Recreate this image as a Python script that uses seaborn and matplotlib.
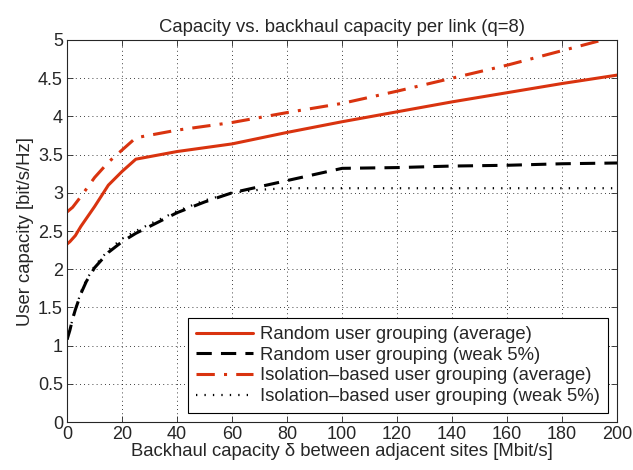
import numpy as np
import pandas as pd
import matplotlib
matplotlib.use("Agg")
import matplotlib.pyplot as plt
import seaborn as sns

# Data
x_rand_avg = [0, 1, 3, 5, 10, 15, 20, 25, 40, 60, 80, 100, 120, 140, 160, 180, 200]
y_rand_avg = [2.33, 2.36, 2.44, 2.56, 2.82, 3.10, 3.28, 3.44, 3.54, 3.64, 3.79, 3.93, 4.06, 4.19, 4.31, 4.43, 4.54]

x_rand_weak = [0, 1, 2, 3, 5, 7, 10, 15, 20, 25, 30, 40, 50, 60, 80, 100, 120, 140, 160, 180, 200]
y_rand_weak = [1.08, 1.2, 1.35, 1.47, 1.68, 1.84, 2.02, 2.22, 2.36, 2.47, 2.56, 2.74, 2.88, 3.0, 3.16, 3.32, 3.33, 3.35, 3.36, 3.38, 3.39]

x_iso_avg = [0, 1, 2, 5, 10, 15, 20, 25, 40, 60, 80, 100, 120, 140, 160, 180, 200]
y_iso_avg = [2.75, 2.78, 2.81, 2.95, 3.2, 3.4, 3.56, 3.72, 3.82, 3.92, 4.05, 4.17, 4.33, 4.5, 4.67, 4.86, 5.05]

x_iso_weak = [0, 1, 2, 3, 5, 7, 10, 15, 20, 25, 30, 40, 50, 60, 70, 80, 100, 120, 140, 160, 180, 200]
y_iso_weak = [1.08, 1.2, 1.35, 1.47, 1.7, 1.86, 2.04, 2.25, 2.4, 2.5, 2.59, 2.76, 2.9, 3.0, 3.04, 3.06, 3.06, 3.06, 3.06, 3.06, 3.06, 3.06]

labels = ["Random user grouping (average)",
          "Random user grouping (weak 5%)",
          "Isolation\u2013based user grouping (average)",
          "Isolation\u2013based user grouping (weak 5%)"]

sns.set_style("ticks")
plt.rcParams['font.family'] = ['Liberation Sans', 'DejaVu Sans']

fig = plt.figure(figsize=(6.33, 4.70), dpi=100)
ax = fig.add_axes([0.106, 0.102, 0.869, 0.813])

red = '#d9330f'
series = [
    (x_rand_avg, y_rand_avg, labels[0], red, '-', 2.2),
    (x_rand_weak, y_rand_weak, labels[1], 'black', (0, (5, 3)), 2.2),
    (x_iso_avg, y_iso_avg, labels[2], red, (0, (6, 3, 1, 3)), 2.2),
    (x_iso_weak, y_iso_weak, labels[3], 'black', (0, (0.6, 3.2)), 1.6),
]
for xs, ys, lab, col, ls, lw in series:
    df = pd.DataFrame({'x': xs, 'y': ys})
    sns.lineplot(data=df, x='x', y='y', ax=ax, color=col, linestyle=ls,
                 linewidth=lw, label=lab)

ax.set_xlim(0, 200)
ax.set_ylim(0, 5)
ax.set_xticks(np.arange(0, 201, 20))
ax.set_yticks(np.arange(0, 5.01, 0.5))
ax.set_yticklabels(['0', '0.5', '1', '1.5', '2', '2.5', '3', '3.5', '4', '4.5', '5'])
ax.tick_params(direction='in', labelsize=13, top=True, right=True, length=4, width=0.6, pad=3)
ax.grid(True, color='black', linestyle=(0, (1, 4)), linewidth=0.6)
for s in ax.spines.values():
    s.set_linewidth(0.8)
    s.set_visible(True)

ax.set_xlabel("Backhaul capacity \u03b4 between adjacent sites [Mbit/s]", fontsize=13.3, labelpad=0)
ax.set_ylabel("User capacity [bit/s/Hz]", fontsize=13.3, labelpad=3)
ax.set_title("Capacity vs. backhaul capacity per link (q=8)", fontsize=13.3, pad=6)

leg = ax.legend(loc='lower right', fontsize=13.3, frameon=True, fancybox=False,
                edgecolor='black', framealpha=1, borderpad=0.42, handlelength=3.1,
                labelspacing=0.2, handletextpad=0.4, borderaxespad=0.5)
leg.get_frame().set_linewidth(0.8)

fig.savefig("out.png", dpi=100)
